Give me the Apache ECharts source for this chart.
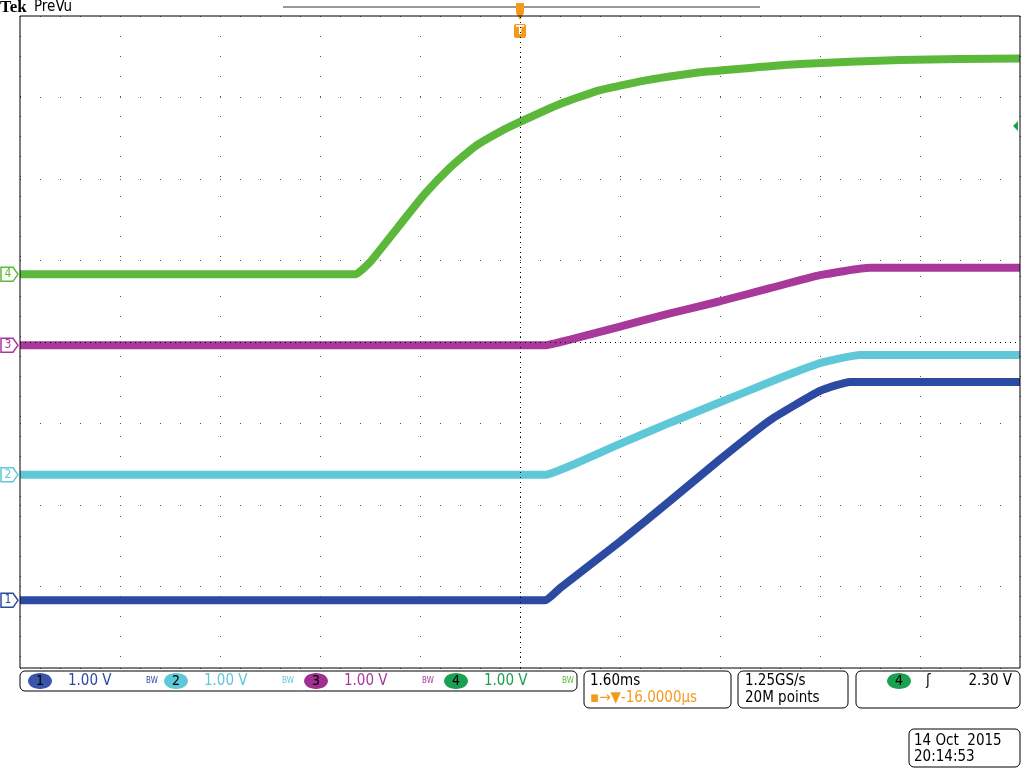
<!DOCTYPE html>
<html>
<head>
<meta charset="utf-8">
<script src="https://cdn.jsdelivr.net/npm/echarts@6/dist/echarts.min.js"></script>
<style>html,body{margin:0;padding:0;background:#fff}#main{width:1024px;height:768px}</style>
</head>
<body>
<div id="main"></div>
<script>
// time in divisions (1.60ms/div), amplitude in divisions (1.00 V/div)
var ch1 = [[-5, -3.17], [0.25, -3.17], [0.4, -3.02], [1.0, -2.45], [1.5, -1.95], [2.0, -1.44], [2.5, -0.96], [3.0, -0.6], [3.3, -0.49], [5, -0.49]];
var ch2 = [[-5, -1.63], [0.25, -1.63], [0.5, -1.52], [1.0, -1.25], [1.5, -0.99], [2.0, -0.74], [2.5, -0.49], [3.0, -0.26], [3.4, -0.16], [5, -0.16]];
var ch3 = [[-5, -0.04], [0.25, -0.04], [0.5, 0.03], [1.0, 0.19], [1.5, 0.35], [2.0, 0.5], [2.5, 0.66], [3.0, 0.82], [3.5, 0.91], [5, 0.91]];
var ch4 = [[-5, 0.83], [-1.65, 0.83], [-1.5, 0.98], [-1.2, 1.44], [-0.95, 1.82], [-0.7, 2.14], [-0.45, 2.4], [-0.2, 2.58], [0, 2.7], [0.4, 2.92], [0.8, 3.09], [1.3, 3.22], [1.8, 3.31], [2.8, 3.41], [3.8, 3.46], [5, 3.48]];
var chColors = ['#2c4aa2', '#5ec8d8', '#a8399a', '#5cb83a'];
var labelColors = ['#2c4aa2', '#5ec8d8', '#a8399a', '#1aa050'];
var badgeColors = ['#3a55a8', '#5ec8d8', '#a0308f', '#1aa050'];
var scaleLabels = ['1.00 V', '1.00 V', '1.00 V', '1.00 V'];
var offsets = [-3.17, -1.63, -0.04, 0.83];
var timebase = '1.60ms';
var triggerPos = '-16.0000\u00b5s';
var sampleRate = '1.25GS/s';
var recordLen = '20M points';
var trigLevel = '2.30 V';
var dateStr = '14 Oct  2015';
var timeStr = '20:14:53';

var chart = echarts.init(document.getElementById('main'));
var font = 'DejaVu Sans Condensed, Liberation Sans, sans-serif';
function series(d, i) {
  return {
    type: 'line', data: d, symbol: 'none', smooth: 0.15, z: 3 + (i === 0 ? 1 : 0),
    lineStyle: { color: chColors[i], width: 8 }
  };
}
var s = [ch1, ch2, ch3, ch4].map(series);
s.push({
  type: 'line', data: [], silent: true,
  markLine: {
    symbol: 'none', silent: true, label: { show: false },
    lineStyle: { color: '#000', type: [1, 4], width: 1 },
    data: [{ xAxis: 0 }, { yAxis: 0 }]
  }
});
chart.setOption({
  animation: false,
  backgroundColor: '#fff',
  grid: { left: 20, right: 4, top: 16, bottom: 100 },
  xAxis: {
    type: 'value', min: -5, max: 5, interval: 1,
    axisLine: { show: false }, axisTick: { show: false }, axisLabel: { show: false },
    splitLine: { show: true, lineStyle: { color: '#555', type: [1, 19], width: 1 } }
  },
  yAxis: {
    type: 'value', min: -4, max: 4, interval: 1,
    axisLine: { show: false }, axisTick: { show: false }, axisLabel: { show: false },
    splitLine: { show: true, lineStyle: { color: '#555', type: [1, 19], width: 1 } }
  },
  series: s
});

var g = [];
var tl = chart.convertToPixel({ gridIndex: 0 }, [-5, 4]);
var br = chart.convertToPixel({ gridIndex: 0 }, [5, -4]);
g.push({ type: 'rect', shape: { x: tl[0], y: tl[1], width: br[0] - tl[0], height: br[1] - tl[1] }, style: { fill: 'none', stroke: '#000', lineWidth: 1 }, z: 10 });
g.push({ type: 'text', left: 0, top: -1, style: { text: 'Tek', font: 'bold 17px Liberation Serif, serif', fill: '#000' } });
g.push({ type: 'text', left: 34, top: 0, style: { text: 'PreVu', font: '15px ' + font, fill: '#000' } });
g.push({ type: 'line', shape: { x1: 283, y1: 7, x2: 760, y2: 7 }, style: { stroke: '#334', lineWidth: 1 } });
var tx = chart.convertToPixel({ gridIndex: 0 }, [0, 0])[0];
g.push({ type: 'rect', shape: { x: tx - 4, y: 3, width: 8, height: 10 }, style: { fill: '#f39a1e' } });
g.push({ type: 'polygon', shape: { points: [[tx - 4, 13], [tx + 4, 13], [tx, 20]] }, style: { fill: '#f39a1e' } });
g.push({ type: 'rect', shape: { x: tx - 6, y: 24, width: 12, height: 14, r: 2 }, style: { fill: '#f39a1e' } });
g.push({ type: 'text', x: tx, y: 31, style: { text: 'T', font: 'bold 12px DejaVu Sans, sans-serif', fill: '#fff', align: 'center', verticalAlign: 'middle' } });
// channel ground markers on left
offsets.forEach(function (v, i) {
  var p = chart.convertToPixel({ gridIndex: 0 }, [-5, v]);
  g.push({ type: 'polygon', shape: { points: [[1, p[1] - 7], [13, p[1] - 7], [18, p[1]], [13, p[1] + 7], [1, p[1] + 7]] }, style: { fill: '#fff', stroke: chColors[i], lineWidth: 1.5 }, z: 11 });
  g.push({ type: 'text', x: 8, y: p[1], style: { text: String(i + 1), font: '12px ' + font, fill: chColors[i], align: 'center', verticalAlign: 'middle' }, z: 12 });
});
// trigger level arrow on right
var trY = chart.convertToPixel({ gridIndex: 0 }, [5, 2.65])[1];
g.push({ type: 'polygon', shape: { points: [[1013, trY], [1018, trY - 5], [1018, trY + 5]] }, style: { fill: '#1aa050' } });
// status bar
function box(x, y, w, h) { g.push({ type: 'rect', shape: { x: x, y: y, width: w, height: h, r: 5 }, style: { fill: '#fff', stroke: '#000', lineWidth: 1 } }); }
function txt(x, y, t, c, sz, al) { g.push({ type: 'text', x: x, y: y, style: { text: t, font: (sz || 15) + 'px ' + font, fill: c || '#000', align: al || 'left', verticalAlign: 'middle' } }); }
box(20, 671, 557, 20);
var bx = [40, 176, 316, 456];
bx.forEach(function (x, i) {
  g.push({ type: 'ellipse', shape: { cx: x, cy: 681, rx: 12, ry: 8 }, style: { fill: badgeColors[i] } });
  txt(x, 681, String(i + 1), '#000', 14, 'center');
  txt(x + 28, 681, scaleLabels[i], labelColors[i], 15);
  txt(x + 106, 681, 'BW', chColors[i], 8);
});
box(584, 671, 147, 37);
txt(590, 681, timebase, '#000', 15);
txt(590, 698, '\u25aa\u2192\u25bc' + triggerPos, '#f39a1e', 15);
box(738, 671, 110, 37);
txt(745, 681, sampleRate, '#000', 15);
txt(745, 698, recordLen, '#000', 15);
box(856, 671, 164, 37);
g.push({ type: 'ellipse', shape: { cx: 899, cy: 681, rx: 12, ry: 8 }, style: { fill: '#1aa050' } });
txt(899, 681, '4', '#000', 14, 'center');
txt(926, 681, '\u0283', '#000', 15);
txt(1012, 681, trigLevel, '#000', 15, 'right');
box(909, 729, 111, 38);
txt(914, 741, dateStr, '#000', 15);
txt(914, 757, timeStr, '#000', 15);
chart.setOption({ graphic: g });
</script>
</body>
</html>
